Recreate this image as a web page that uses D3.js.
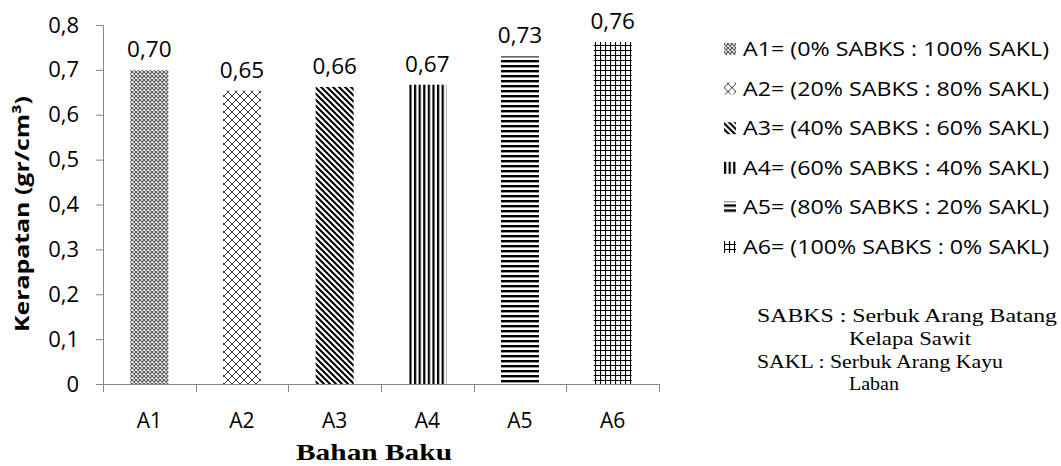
<!DOCTYPE html>
<html><head><meta charset="utf-8">
<script src="https://cdn.jsdelivr.net/npm/d3@7"></script>
<style>body{margin:0;background:#fff}</style>
</head><body>
<script>
const categories = ["A1","A2","A3","A4","A5","A6"];
const values = [0.700, 0.654, 0.662, 0.667, 0.730, 0.762];
const valueLabels = ["0,70","0,65","0,66","0,67","0,73","0,76"];
const yTicks = [0,0.1,0.2,0.3,0.4,0.5,0.6,0.7,0.8];
const legendLabels = ["A1= (0% SABKS : 100% SAKL)","A2= (20% SABKS : 80% SAKL)","A3= (40% SABKS : 60% SAKL)","A4= (60% SABKS : 40% SAKL)","A5= (80% SABKS : 20% SAKL)","A6= (100% SABKS : 0% SAKL)"];
const notes = ["SABKS : Serbuk Arang Batang","Kelapa Sawit","SAKL : Serbuk Arang Kayu","Laban"];

const W=1061,H=466;
const svg=d3.select("body").append("svg").attr("width",W).attr("height",H);
const defs=svg.append("defs");
const sans="'Open Sans', sans-serif";
const serif="'Liberation Serif', 'Times New Roman', serif";

function pat(id,size,draw){
  const p=defs.append("pattern").attr("id",id).attr("patternUnits","userSpaceOnUse").attr("width",size).attr("height",size);
  p.append("rect").attr("width",size).attr("height",size).attr("fill","#fff");
  draw(p,size);
}
pat("p0",4,(p,s)=>{
  p.append("path").attr("d",`M0,0L${s},${s}M${s},0L0,${s}`).attr("stroke","#555").attr("stroke-width",1.1);
});
pat("p1",8,(p,s)=>{
  p.append("path").attr("d",`M0,0L${s},${s}M${s},0L0,${s}`).attr("stroke","#444").attr("stroke-width",1);
});
pat("p2",6,(p,s)=>{
  p.append("path").attr("d",`M0,0L${s},${s}M${-s},0L${s},${2*s}M0,${-s}L${2*s},${s}`).attr("stroke","#000").attr("stroke-width",2);
});
pat("p3",4.6,(p,s)=>{
  p.append("rect").attr("x",0).attr("y",0).attr("width",2.2).attr("height",s).attr("fill","#000");
});
pat("p4",5,(p,s)=>{
  p.append("rect").attr("x",0).attr("y",0).attr("width",s).attr("height",2.4).attr("fill","#000");
});
pat("p5",5,(p,s)=>{
  p.append("path").attr("d",`M0,0.5H${s}M0.5,0V${s}`).attr("stroke","#000").attr("stroke-width",1.2);
});

const x=d3.scaleBand().domain(categories).range([103,659]).paddingInner(0.59).paddingOuter(0.295);
const y=d3.scaleLinear().domain([0,0.8]).range([384,25]);

// y axis
const ya=svg.append("g").attr("transform","translate(103,0)")
  .call(d3.axisLeft(y).tickValues(yTicks).tickSize(7).tickPadding(17).tickFormat(d=>d===0?"0":d3.format(".1f")(d).replace(".",",")));
ya.select(".domain").attr("stroke","#868686").attr("d","M-7,25.5H0.5V384");
ya.selectAll(".tick line").attr("stroke","#868686");
ya.selectAll("text").attr("font-family",sans).attr("font-size",22).attr("fill","#000");

// x axis
const band=x.step();
const xa=svg.append("g").attr("transform","translate(0,384)");
xa.append("line").attr("x1",96).attr("x2",659).attr("y1",0.5).attr("y2",0.5).attr("stroke","#868686");
const bounds=[103].concat(categories.map(c=>x(c)+x.bandwidth()/2+band/2));
xa.selectAll(".tk").data(bounds).enter().append("line").attr("x1",d=>Math.round(d)+0.5).attr("x2",d=>Math.round(d)+0.5).attr("y1",0).attr("y2",8).attr("stroke","#868686");
xa.selectAll(".lb").data(categories).enter().append("text").attr("x",d=>x(d)+x.bandwidth()/2).attr("y",44)
  .attr("text-anchor","middle").attr("font-family",sans).attr("font-size",21).text(d=>d);

// bars
svg.selectAll(".bar").data(categories).enter().append("rect")
  .attr("x",d=>x(d)).attr("width",x.bandwidth())
  .attr("y",(d,i)=>y(values[i])).attr("height",(d,i)=>y(0)-y(values[i]))
  .attr("fill",(d,i)=>`url(#p${i})`);
svg.selectAll(".vl").data(categories).enter().append("text")
  .attr("x",d=>x(d)+x.bandwidth()/2).attr("y",(d,i)=>y(values[i])-13)
  .attr("text-anchor","middle").attr("font-family",sans).attr("font-size",22.5).text((d,i)=>valueLabels[i]);

// axis titles
svg.append("text").attr("transform","translate(29,214) rotate(-90)").attr("text-anchor","middle")
  .attr("font-family",sans).attr("font-weight","bold").attr("font-size",20)
  .attr("textLength",236).attr("lengthAdjust","spacingAndGlyphs").text("Kerapatan (gr/cm³)");
svg.append("text").attr("x",374).attr("y",460).attr("text-anchor","middle")
  .attr("font-family",serif).attr("font-weight","bold").attr("font-size",23)
  .attr("textLength",156).attr("lengthAdjust","spacingAndGlyphs").text("Bahan Baku");

// legend
const lg=svg.selectAll(".lg").data(legendLabels).enter().append("g").attr("transform",(d,i)=>`translate(724,${56+i*39.6})`);
lg.append("rect").attr("x",0).attr("y",-13).attr("width",12).attr("height",12).attr("fill",(d,i)=>`url(#p${i})`);
lg.append("text").attr("x",19).attr("y",0).attr("font-family",sans).attr("font-size",20.5)
  .attr("textLength",306).attr("lengthAdjust","spacingAndGlyphs").text(d=>d);

// notes
const noteX=[757,849,757,849], noteY=[322,345,368,390], noteW=[300,122,246,50];
svg.selectAll(".nt").data(notes).enter().append("text")
  .attr("x",(d,i)=>noteX[i]).attr("y",(d,i)=>noteY[i])
  .attr("font-family",serif).attr("font-size",19.5)
  .attr("textLength",(d,i)=>noteW[i]).attr("lengthAdjust","spacingAndGlyphs").text(d=>d);
</script>
</body></html>
